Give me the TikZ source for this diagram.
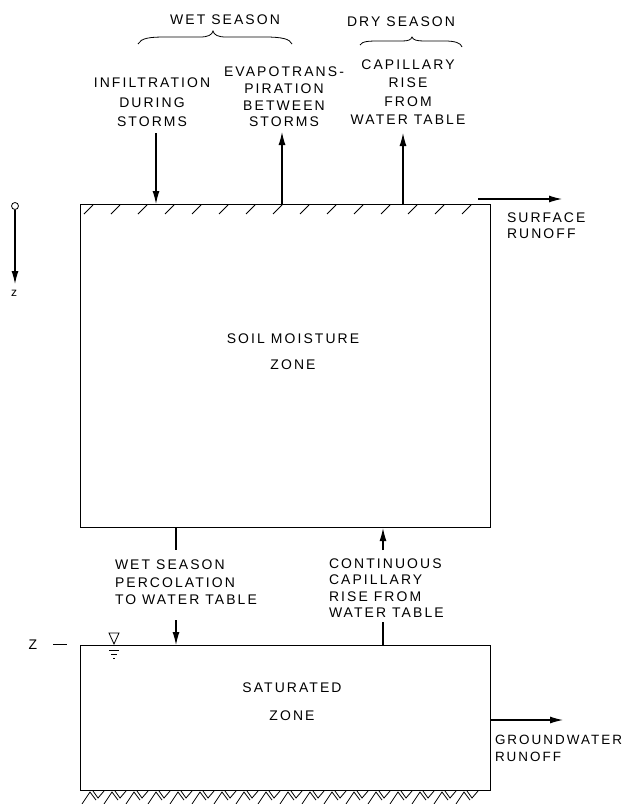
\documentclass[tikz,border=0pt]{standalone}
\usepackage{fontspec}
\setmainfont{Liberation Sans}[LetterSpace=15]
\usetikzlibrary{arrows.meta}
\begin{document}
\begin{tikzpicture}[x=1bp,y=-1bp,line width=1.1bp,
  lbl/.style={inner sep=0pt,outer sep=0pt,align=center,font=\fontsize{14}{#1}\selectfont},
  lbl/.default=18,
  lbll/.style={inner sep=0pt,outer sep=0pt,align=left,anchor=north west,font=\fontsize{14}{#1}\selectfont},
  zonebox/.style={draw,inner sep=0pt,anchor=north west},
  arr/.style={-{Latex[length=13bp,width=7bp]}},
  hatch/.style={line width=0.8bp}]
\useasboundingbox (0,0) rectangle (628,804);

% boxes
\node[zonebox,minimum width=410bp,minimum height=323bp] (soil) at (80,204) {};
\node[zonebox,minimum width=410bp,minimum height=145bp] (sat) at (80,645) {};

% top labels
\node[lbl,anchor=north] (wet) at (225,15) {WET SEASON};
\node[lbl,anchor=north] (dry) at (401,17) {DRY SEASON};
\draw[line width=0.8bp] (138,44) .. controls (141,38) and (150,37) .. (165,37) -- (200,37)
  .. controls (208,37) and (212,35) .. (213,31) .. controls (214,35) and (218,37) .. (226,37)
  -- (265,37) .. controls (282,37) and (290,39) .. (292,44);
\draw[line width=0.8bp] (360,45) .. controls (362,41) and (370,41) .. (380,41) -- (402,41)
  .. controls (408,41) and (411,40) .. (412,37) .. controls (413,40) and (417,41) .. (424,41)
  -- (445,41) .. controls (455,41) and (461,43) .. (462,47);

\node[lbl=19.5,anchor=north] (inf) at (152,78) {INFILTRATION\\DURING\\STORMS};
\node[lbl=16.8,anchor=north] (evap) at (284,67) {EVAPOTRANS-\\PIRATION\\BETWEEN\\STORMS};
\node[lbl=18.3,anchor=north] (cap) at (408,60) {CAPILLARY\\RISE\\FROM\\WATER TABLE};

\coordinate (infs) at (156,133);
\coordinate (evs) at (282,204);
\coordinate (cps) at (403,204);
\draw[arr] (infs) -- (infs |- soil.north);
\draw[arr] (evs) -- ++(0,-72) coordinate (evt);
\draw[arr] (cps) -- ++(0,-71) coordinate (cpt);

% hatching below top surface
\foreach \x in {84,111,...,480} \draw[hatch] (\x,214) -- ++(9,-9);

% surface runoff
\coordinate (sr0) at (478,199);
\coordinate (sr1) at (562,199);
\draw[arr] (sr0) -- (sr1);
\node[lbll=15.5] (srl) at (507,213) {SURFACE\\RUNOFF};

% depth axis
\node[draw,circle,inner sep=0pt,minimum size=7bp,line width=0.8bp] (orig) at (15,206) {};
\coordinate (zend) at (15,284);
\draw[arr] (orig) -- (zend);
\node[inner sep=0pt,font=\fontsize{12}{14}\selectfont] (zl) at (14,293) {z};

\node[lbl=26,anchor=north] (soilt) at (293,334) {SOIL MOISTURE\\ZONE};

% lower connectors
\coordinate (pa) at (176,550);
\coordinate (pb) at (176,620);
\draw (soil.south -| pa) -- (pa);
\draw[arr] (pb) -- (pb |- sat.north);
\coordinate (ca) at (383,550);
\coordinate (cb) at (383,622);
\draw[arr] (ca) -- (ca |- soil.south);
\draw (cb) -- (cb |- sat.north);

\node[lbll=17.5] (perc) at (115,560) {WET SEASON\\PERCOLATION\\TO WATER TABLE};
\node[lbll=16.3] (cont) at (329,559) {CONTINUOUS\\CAPILLARY\\RISE FROM\\WATER TABLE};

% water table symbol
\draw[line width=0.8bp] (109,633) -- (119,633) -- (114,644) -- cycle;
\draw[line width=0.8bp] (109,650) -- (119,650) (111,654) -- (117,654) (113,658) -- (115,658);
\node[inner sep=0pt,font=\fontsize{14}{14}\selectfont] (Zl) at (33,645) {Z};
\draw[line width=0.8bp] (53,644) -- (67,644);

\node[lbl=28,anchor=north] (satt) at (292,683) {SATURATED\\ZONE};

% groundwater runoff
\coordinate (gr1) at (563,720);
\draw[arr] (sat.east |- gr1) -- (gr1);
\node[lbll=17,font=\fontsize{13.5}{17}\selectfont] (grl) at (495,735) {GROUNDWATER\\RUNOFF};

% bottom hatching
\foreach \x in {82,104,...,470} {
  \draw[hatch] (\x,804) -- ++(8,-12) -- ++(6,8);
  \draw[hatch] (\x+11,791) -- ++(5,7) -- ++(6,-7);
}
\end{tikzpicture}
\end{document}
